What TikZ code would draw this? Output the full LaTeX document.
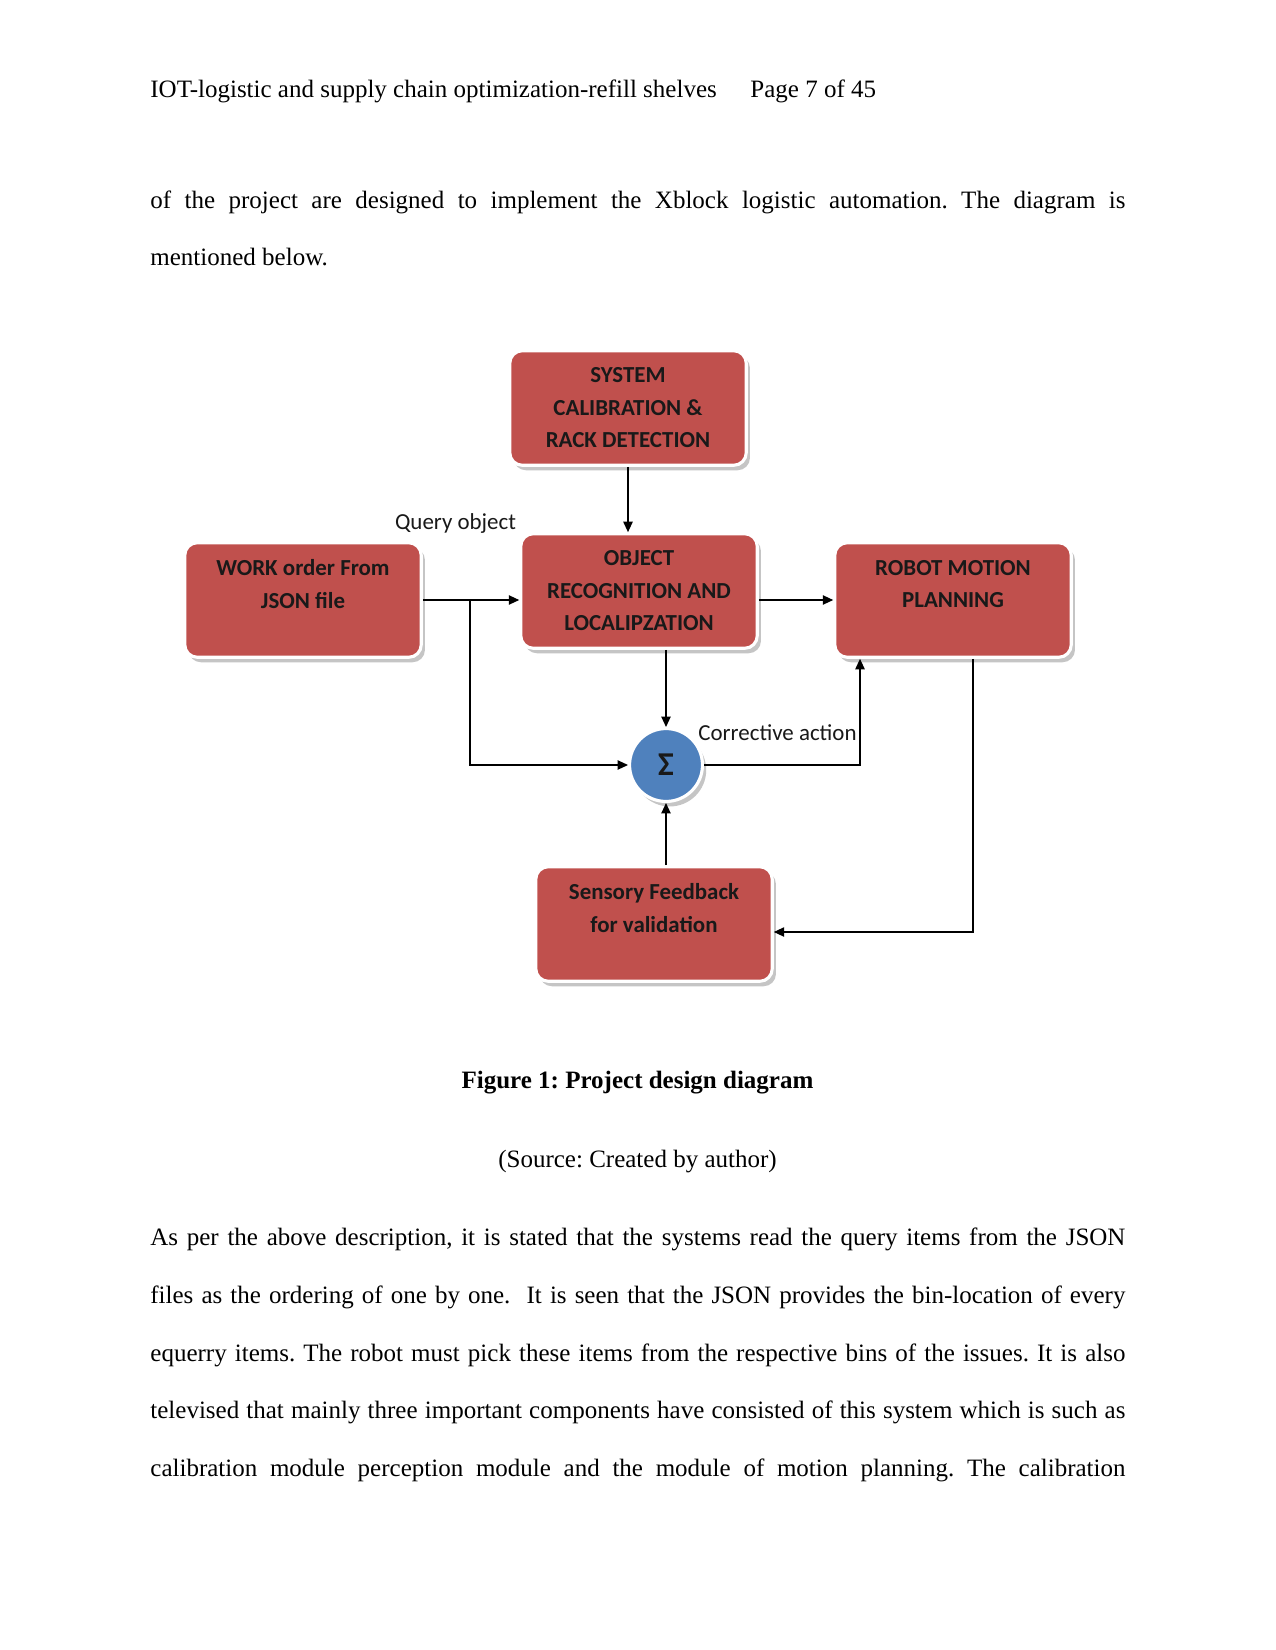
\documentclass[tikz,border=0pt]{standalone}
\usepackage{fontspec}
\setmainfont{Liberation Serif}
\newfontfamily\carlito{Carlito}
\usetikzlibrary{shadows,arrows.meta}
\definecolor{boxred}{HTML}{C0504D}
\definecolor{sigblue}{HTML}{4F81BD}
\frenchspacing
\begin{document}
\frenchspacing
\begin{tikzpicture}[x=0.48pt,y=-0.48pt,
  box/.style={rectangle, rounded corners=6pt, fill=boxred, draw=white, line width=1.5pt,
    minimum width=113.5pt, minimum height=55pt, align=center, inner sep=2pt,
    font=\carlito\bfseries\fontsize{11pt}{15.6pt}\selectfont, text=black!90,
    drop shadow={shadow xshift=1.8pt, shadow yshift=-2.4pt, fill=black!45, opacity=0.5}},
  sigbox/.style={circle, fill=sigblue, draw=white, line width=1.5pt, minimum size=35pt, inner sep=0pt,
    font=\carlito\bfseries\fontsize{16pt}{16pt}\selectfont, text=black!90,
    drop shadow={shadow xshift=1.8pt, shadow yshift=-2.4pt, fill=black!45, opacity=0.5}},
  conn/.style={draw=black, line width=0.6pt, -{Triangle[length=5pt,width=4.5pt]}},
  lab/.style={font=\carlito\fontsize{11pt}{13pt}\selectfont, inner sep=0pt, text=black!90},
  body/.style={font=\fontsize{12pt}{14pt}\selectfont, anchor=base west, inner sep=0pt},
  captext/.style={font=\fontsize{12pt}{14pt}\selectfont, anchor=base, inner sep=0pt}
]
\useasboundingbox (0,0) rectangle (1275,1650);
\fill[white] (0,0) rectangle (1275,1650);

% header
\node[body] (h1) at (150,97.8) {IOT-logistic and supply chain optimization-refill shelves};
\node[body] (h2) at (750,97.8) {Page 7 of 45};

% paragraph 1
\node[body] (p11) at (150,208.3) {\makebox[468pt][s]{of the project are designed to implement the Xblock logistic automation. The diagram is}};
\node[body] (p12) at (150,265.1) {mentioned below.};

% diagram
\node[box] (sys) at (628,408) {SYSTEM\\CALIBRATION \&\\RACK DETECTION};
\node[box] (obj) at (639,591) {OBJECT\\RECOGNITION AND\\LOCALIPZATION};
\node[box] (work) at (303,600) {WORK order From\\JSON file\\~};
\node[box] (rob) at (953,600) {ROBOT MOTION\\PLANNING\\~};
\node[box] (sens) at (654,924) {Sensory Feedback\\for validation\\~};
\node[sigbox] (sig) at (666,765) {Σ};

\node[lab] (qo) at (455.5,524) {Query object};
\node[lab] (corr) at (777.5,733) {Corrective action};

\coordinate (jx) at (470,0);
\coordinate (cx) at (860,0);
\coordinate (rx) at (973,0);
\coordinate (fy) at (0,932);

\draw[conn] (sys.south) -- (sys.south |- obj.north);
\draw[conn] (work.east) -- (work.east -| obj.west);
\draw[conn] (jx |- work.east) |- (sig.west);
\draw[conn] (obj.south -| sig.north) -- (sig.north);
\draw[conn] (sig.east) -| (cx |- rob.south);
\draw[conn] (obj.east |- work.east) -- (rob.west);
\draw[conn] (rx |- rob.south) -- (rx |- fy) -- (sens.east |- fy);
\draw[conn] (sens.north -| sig.south) -- (sig.south);

% caption
\node[captext] (c1) at (637.5,1088.8) {\bfseries Figure 1: Project design diagram};
\node[captext] (c2) at (637.5,1167.7) {(Source: Created by author)};

% paragraph 2
\node[body] (p21) at (150,1245.6) {\makebox[468pt][s]{As per the above description, it is stated that the systems read the query items from the JSON}};
\node[body] (p22) at (150,1303.4) {\makebox[468pt][s]{files as the ordering of one by one. \ It is seen that the JSON provides the bin-location of every}};
\node[body] (p23) at (150,1361.3) {\makebox[468pt][s]{equerry items. The robot must pick these items from the respective bins of the issues. It is also}};
\node[body] (p24) at (150,1418.1) {\makebox[468pt][s]{televised that mainly three important components have consisted of this system which is such as}};
\node[body] (p25) at (150,1476.0) {\makebox[468pt][s]{calibration module perception module and the module of motion planning. The calibration}};
\end{tikzpicture}
\end{document}
